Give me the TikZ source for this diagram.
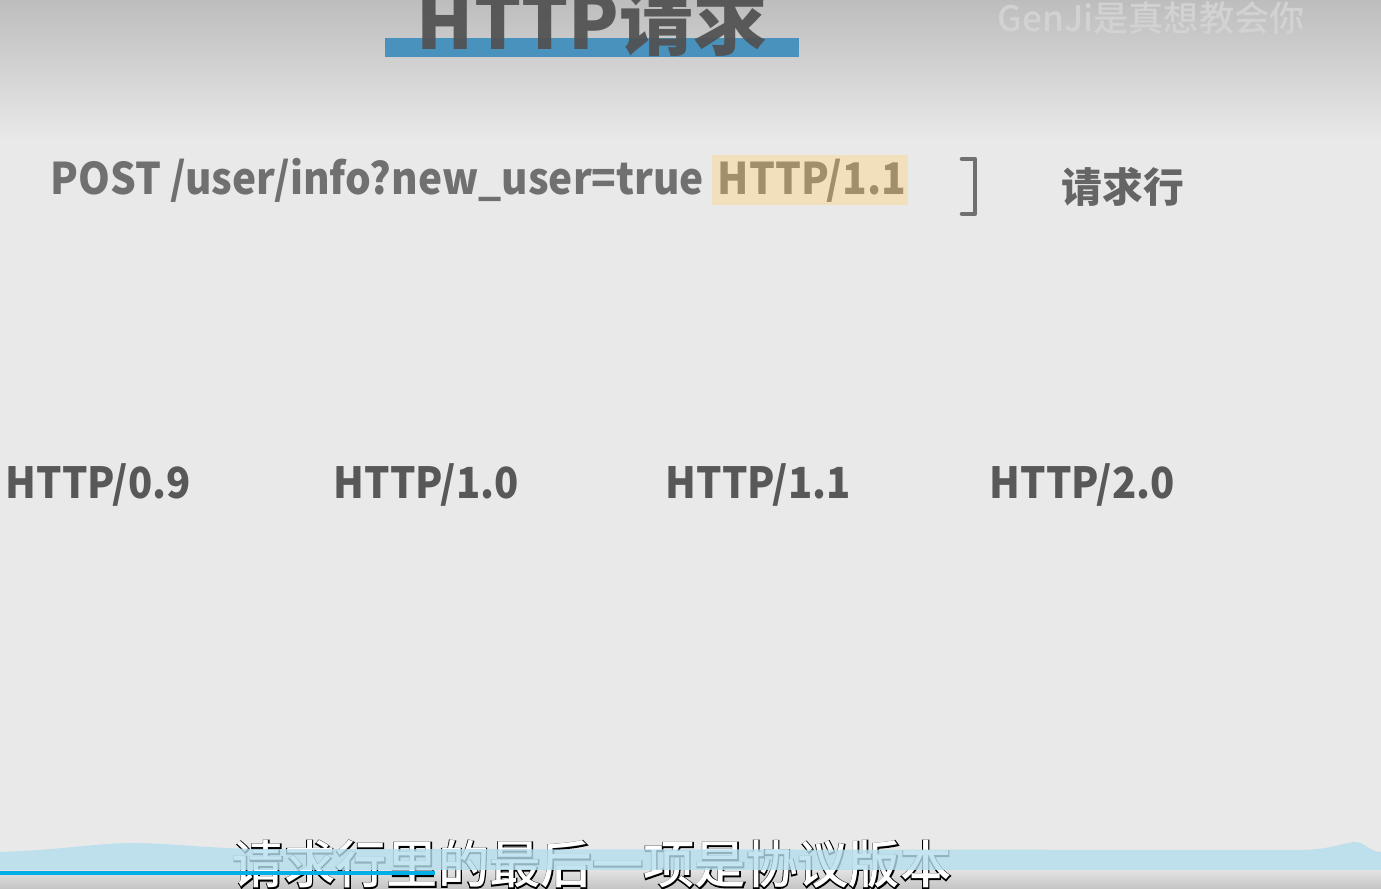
\documentclass[tikz,border=0pt]{standalone}
\usepackage{fontspec}
\setmainfont{Noto Sans CJK SC}[BoldFont={Noto Sans CJK SC Bold}]
\IfFontExistsTF{Noto Sans CJK SC Black}
  {\newfontfamily\cjkbold{Noto Sans CJK SC Black}
   \newfontfamily\cjklat{Noto Sans CJK SC Black}[FakeStretch=0.93]}
  {\newfontfamily\cjkbold{Noto Sans CJK SC Bold}[FakeBold=1]
   \newfontfamily\cjklat{Noto Sans CJK SC Bold}[FakeBold=1,FakeStretch=0.93]}
\newfontfamily\cjkout{Noto Sans CJK SC Medium}[FakeBold=4]
\newfontfamily\cjkmed{Noto Sans CJK SC Medium}
\definecolor{bgc}{HTML}{E9E9E9}
\definecolor{topc}{HTML}{BDBDBD}
\definecolor{titlec}{HTML}{505050}
\definecolor{barc}{HTML}{4A92BE}
\definecolor{txtc}{HTML}{707070}
\definecolor{verc}{HTML}{585858}
\definecolor{hlbg}{HTML}{F2E0BC}
\definecolor{hltxt}{HTML}{A28E68}
\definecolor{wmc}{HTML}{D2D2D2}
\definecolor{wavec}{HTML}{B4DEED}
\definecolor{progc}{HTML}{00AEE8}
\tikzset{
  txt/.style={inner sep=0pt, anchor=base west},
  reqfont/.style={font=\cjklat\fontsize{12.4pt}{14pt}\selectfont},
  vers/.style={txt, text=verc, font=\cjklat\fontsize{12.2pt}{14pt}\selectfont},
}
\begin{document}
\begin{tikzpicture}[x=0.01cm,y=-0.01cm]
\useasboundingbox (0,0) rectangle (1381,889);
% background
\fill[bgc] (0,0) rectangle (1381,889);
\shade[top color=topc, bottom color=bgc] (0,0) rectangle (1381,140);
\shade[top color=bgc, bottom color=topc!90] (0,866) rectangle (1381,889);
% title
\fill[barc] (385,38) rectangle (799,57);
\node[inner sep=0pt, anchor=base, text=titlec, opacity=0.92,
  font=\cjkbold\fontsize{21pt}{24pt}\selectfont] (title) at (592,50) {HTTP请求};
% watermark
\node[txt, text=wmc, font=\cjkmed\fontsize{10pt}{12pt}\selectfont] (wm) at (997,32) {GenJi是真想教会你};
% request line
\node[txt, text=txtc, reqfont] (req) at (50,195) {POST /user/info?new\_user=true};
\fill[hlbg] (712,155) rectangle (908,205);
\node[txt, text=hltxt, reqfont] (ver) at (717,195) {HTTP/1.1};
\coordinate (b1) at (962,159);
\coordinate (b2) at (975,159);
\coordinate (b3) at (975,214);
\coordinate (b4) at (962,214);
\draw[txtc, line width=1.3pt, line join=round, line cap=round] (b1) -- (b2) -- (b3) -- (b4);
\node[txt, text=txtc!90!black, font=\cjkbold\fontsize{11.6pt}{14pt}\selectfont] (label) at (1061,203) {请求行};
% versions
\node[vers] (v09) at (5,499) {HTTP/0.9};
\node[vers] (v10) at (333,499) {HTTP/1.0};
\node[vers] (v11) at (665,499) {HTTP/1.1};
\node[vers] (v20) at (989,499) {HTTP/2.0};
% subtitle
\node[txt, font=\fontsize{14.6pt}{16pt}\selectfont] (sub) at (232,884)
  {\rlap{\cjkout\color{black}请求行里的最后一项是协议版本}\cjkmed\color{white}请求行里的最后一项是协议版本};
% wave band (over the subtitle)
\fill[wavec, opacity=0.8] (0,852) .. controls (60,850) and (100,843) .. (130,843)
  .. controls (170,843) and (200,848) .. (260,849)
  -- (1300,850) .. controls (1330,850) and (1345,842) .. (1355,842)
  .. controls (1365,842) and (1370,852) .. (1381,852)
  -- (1381,870) -- (0,870) -- cycle;
\fill[progc] (0,871) rectangle (435,875);
\end{tikzpicture}
\end{document}
